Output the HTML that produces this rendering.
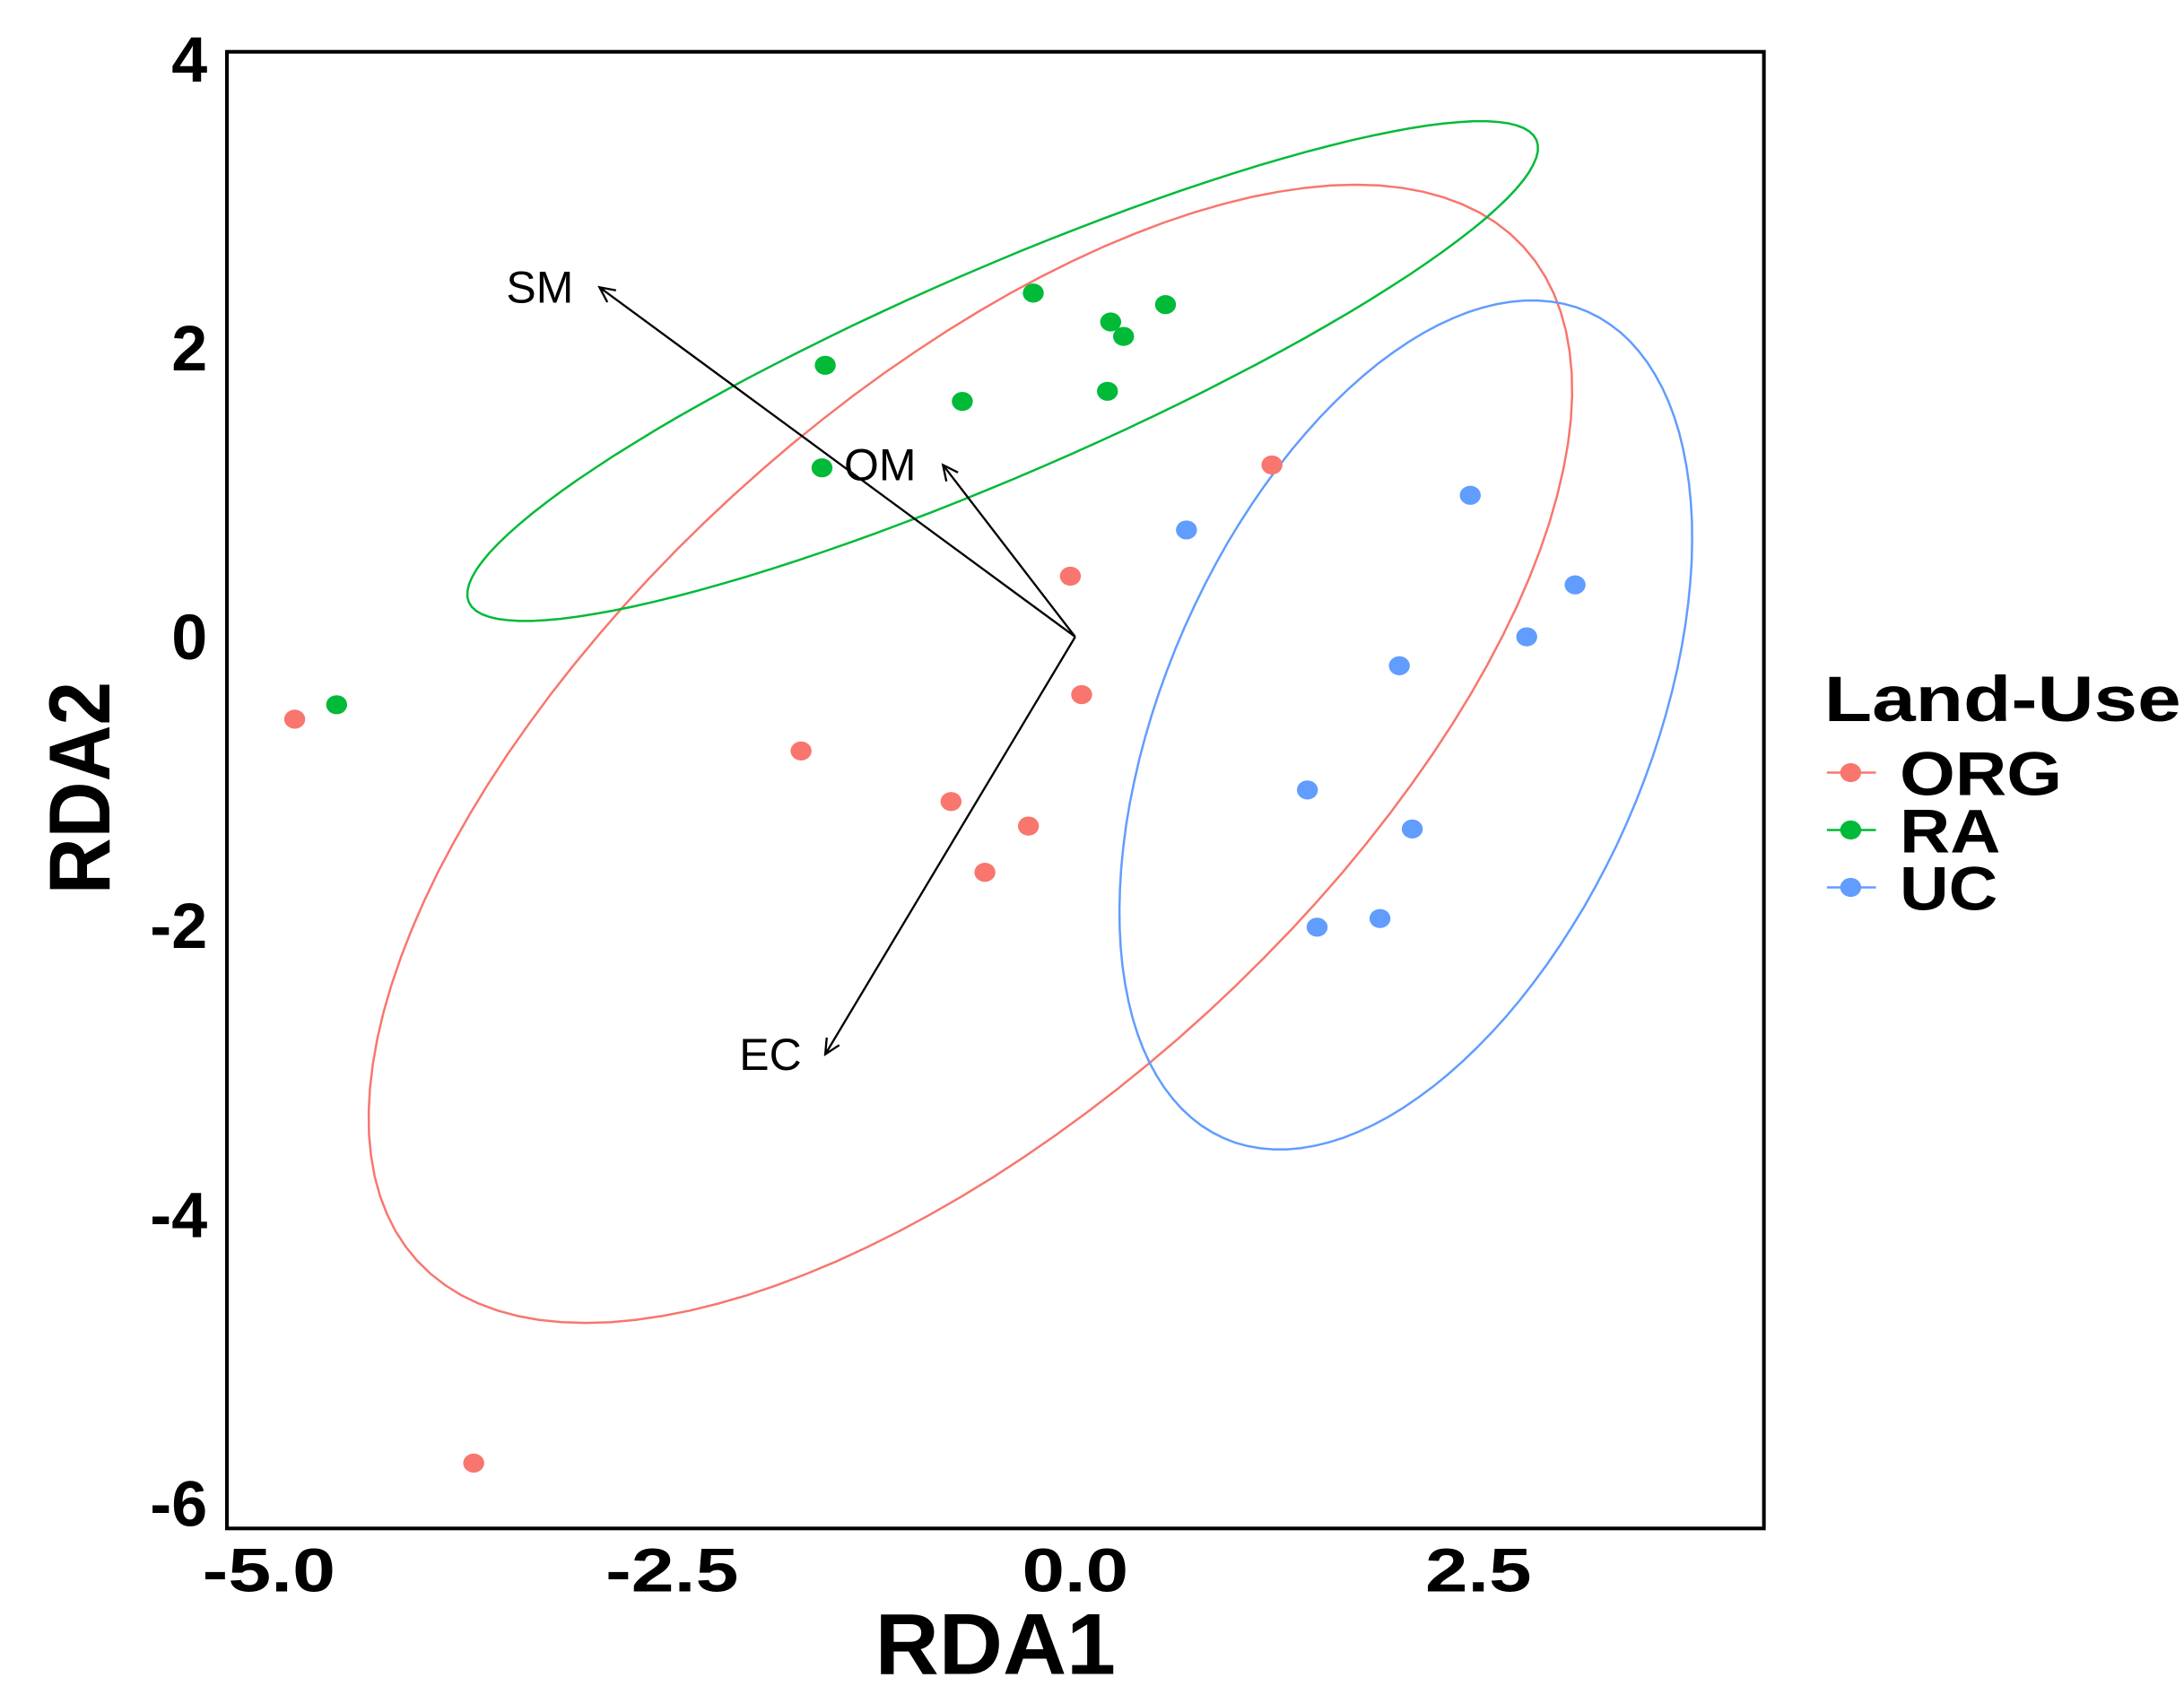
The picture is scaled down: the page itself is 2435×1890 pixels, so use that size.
<!DOCTYPE html>
<html><head><meta charset="utf-8"><style>
html,body{margin:0;padding:0;background:#fff}
svg{display:block}
text{font-family:"Liberation Sans",Arial,sans-serif}
</style></head><body>
<svg id="chart" width="2435" height="1890" viewBox="0 0 1560 1211" xmlns="http://www.w3.org/2000/svg">
<rect x="0" y="0" width="1560" height="1211" fill="#fff"/>
<g id="ellipses"></g>
<g id="arrows"></g>
<g id="points"></g>
<rect x="162" y="37" width="1098" height="1055" fill="none" stroke="#000" stroke-width="2.6"/>
<g id="xticks"></g>
<g id="yticks"></g>
<text x="711" y="1196" font-size="62" font-weight="bold" text-anchor="middle" textLength="172" lengthAdjust="spacingAndGlyphs">RDA1</text>
<text transform="translate(78,563) rotate(-90)" font-size="62" font-weight="bold" text-anchor="middle" textLength="152" lengthAdjust="spacingAndGlyphs">RDA2</text>
<g>
<text x="1303" y="515" font-size="46" font-weight="bold" textLength="255" lengthAdjust="spacingAndGlyphs">Land-Use</text>
<g id="legend-entries"></g>
</g>
</svg>
<script>
// ---- data ----
const xTicks = [-5.0, -2.5, 0.0, 2.5];
const xTickLabels = ["-5.0", "-2.5", "0.0", "2.5"];
const yTicks = [4, 2, 0, -2, -4, -6];
const yTickLabels = ["4", "2", "0", "-2", "-4", "-6"];
const groups = ["ORG", "RA", "UC"];
const groupColors = ["#F8766D", "#00BA38", "#619CFF"];
const orgX = [-4.84, -1.70, -0.77, -0.29, -0.56, -0.03, 0.04, 1.22, -3.73];
const orgY = [-0.57, -0.79, -1.14, -1.31, -1.63, 0.42, -0.40, 1.19, -5.72];
const raX = [-4.58, -1.55, -1.57, -0.70, -0.26, 0.22, 0.30, 0.56, 0.20];
const raY = [-0.47, 1.88, 1.17, 1.63, 2.38, 2.18, 2.08, 2.30, 1.70];
const ucX = [0.69, 2.45, 3.10, 2.80, 2.01, 1.44, 2.09, 1.50, 1.89];
const ucY = [0.74, 0.98, 0.36, 0.00, -0.20, -1.06, -1.33, -2.01, -1.95];
// ellipse: center (x,y), major-axis vector, minor-axis vector (data units)
const ellCenterX = [-0.65, -0.45, 2.05];
const ellCenterY = [-0.81, 1.84, -0.61];
const ellMajorX = [3.43, 3.31, 1.13];
const ellMajorY = [3.51, 1.60, 2.86];
const ellMinorX = [1.47, 0.255, 1.37];
const ellMinorY = [-1.79, -0.658, -0.68];
const arrowNames = ["SM", "OM", "EC"];
const arrowX = [-2.95, -0.82, -1.55];
const arrowY = [2.42, 1.19, -2.89];
const arrowLabelX = [-3.32, -1.21, -1.89];
const arrowLabelY = [2.42, 1.19, -2.89];

// ---- scales ----
const X0 = 768, XS = 115.2, Y0 = 455, YS = 103.2;
const sx = v => X0 + v * XS;
const sy = v => Y0 - v * YS;
const NS = "http://www.w3.org/2000/svg";
function mk(tag, attrs, parent) {
  const e = document.createElementNS(NS, tag);
  for (const k in attrs) e.setAttribute(k, attrs[k]);
  parent.appendChild(e);
  return e;
}

// ellipses
const gE = document.getElementById("ellipses");
for (let i = 0; i < groups.length; i++) {
  let d = "";
  for (let k = 0; k <= 120; k++) {
    const t = k / 120 * 2 * Math.PI;
    const vx = ellCenterX[i] + ellMajorX[i] * Math.cos(t) + ellMinorX[i] * Math.sin(t);
    const vy = ellCenterY[i] + ellMajorY[i] * Math.cos(t) + ellMinorY[i] * Math.sin(t);
    d += (k ? "L" : "M") + sx(vx).toFixed(1) + "," + sy(vy).toFixed(1);
  }
  const p = mk("path", {d: d + "Z", fill: "none", stroke: groupColors[i], "stroke-width": 1.6}, gE);
  
  
}

// arrows
const gA = document.getElementById("arrows");
for (let i = 0; i < arrowNames.length; i++) {
  const x1 = sx(0), y1 = sy(0), x2 = sx(arrowX[i]), y2 = sy(arrowY[i]);
  const ang = Math.atan2(y2 - y1, x2 - x1);
  const h = 12, w = 0.45;
  const d = "M" + x1 + "," + y1 + "L" + x2 + "," + y2 +
    "M" + (x2 - h * Math.cos(ang - w)) + "," + (y2 - h * Math.sin(ang - w)) + "L" + x2 + "," + y2 +
    "L" + (x2 - h * Math.cos(ang + w)) + "," + (y2 - h * Math.sin(ang + w));
  const p = mk("path", {d: d, fill: "none", stroke: "#000", "stroke-width": 1.5}, gA);
  
  
  const t = mk("text", {x: sx(arrowLabelX[i]), y: sy(arrowLabelY[i]) + 11, "font-size": 32, "text-anchor": "middle"}, gA);
  t.textContent = arrowNames[i];
  
  
}

// points
const gP = document.getElementById("points");
const allX = [orgX, raX, ucX], allY = [orgY, raY, ucY];
for (let g = 0; g < groups.length; g++) {
  for (let i = 0; i < allX[g].length; i++) {
    const c = mk("ellipse", {cx: sx(allX[g][i]), cy: sy(allY[g][i]), rx: 7.5, ry: 6.8, fill: groupColors[g]}, gP);
    
    
  }
}

// ticks
const gX = document.getElementById("xticks");
const xw = [95, 95, 76, 76];
for (let i = 0; i < xTicks.length; i++) {
  const t = mk("text", {x: sx(xTicks[i]), y: 1137, "font-size": 44, "font-weight": "bold", "text-anchor": "middle", textLength: xw[i], lengthAdjust: "spacingAndGlyphs"}, gX);
  t.textContent = xTickLabels[i];
  
  
}
const gY = document.getElementById("yticks");
for (let i = 0; i < yTicks.length; i++) {
  const t = mk("text", {x: 148, y: sy(yTicks[i]) + 16, "font-size": 46, "font-weight": "bold", "text-anchor": "end"}, gY);
  t.textContent = yTickLabels[i];
  
  
}

// legend
const gL = document.getElementById("legend-entries");
const legY = [552, 593, 634];
const legW = [116, 72, 70];
for (let i = 0; i < groups.length; i++) {
  const g = mk("g", {}, gL);
  
  
  mk("line", {x1: 1305, y1: legY[i], x2: 1340, y2: legY[i], stroke: groupColors[i], "stroke-width": 1.6}, g);
  mk("ellipse", {cx: 1322, cy: legY[i], rx: 7.5, ry: 6.8, fill: groupColors[i]}, g);
  const t = mk("text", {x: 1357, y: legY[i] + 16, "font-size": 44, "font-weight": "bold", textLength: legW[i], lengthAdjust: "spacingAndGlyphs"}, g);
  t.textContent = groups[i];
}
</script>
</body></html>
